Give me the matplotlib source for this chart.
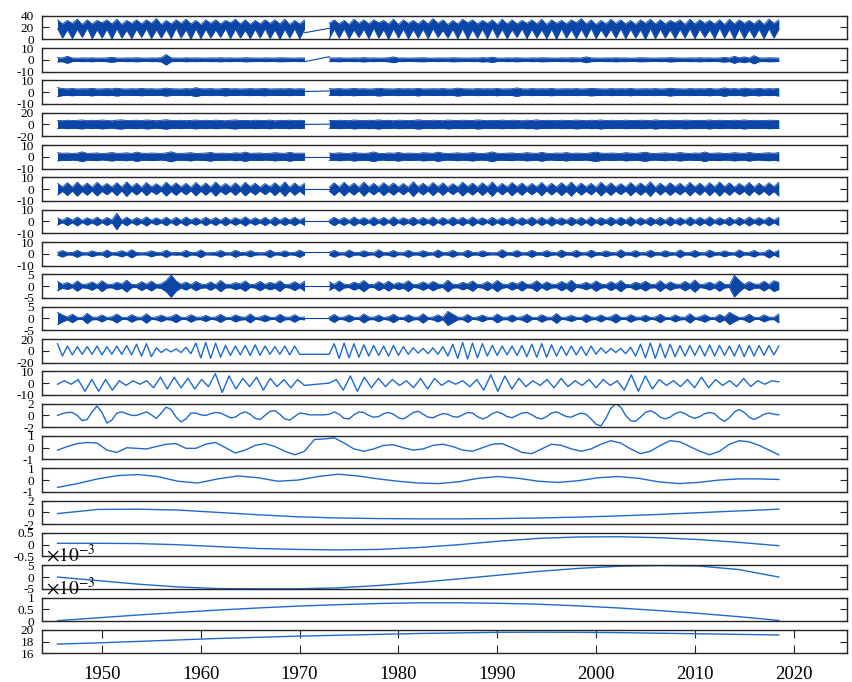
import numpy as np
import matplotlib.pyplot as plt
from matplotlib.ticker import FuncFormatter

plt.rcParams['font.family'] = ['Liberation Serif', 'DejaVu Serif']
plt.rcParams['mathtext.fontset'] = 'stix'
plt.rcParams['axes.unicode_minus'] = False

# the record breaks between late 1970 and early 1973
PRE = (1945.5, 1970.5)
POST = (1973.0, 2018.5)
FULL = (1945.5, 2018.5)

# ---------------- raw signal: half-yearly top / bottom of the daily band ----------------
summer_top_pre = [33, 32, 34, 33, 32, 33, 34, 32, 33, 33, 35, 32, 33, 34, 32, 33, 33, 32, 34, 33, 32, 33, 33, 34, 32, 33]
winter_top_pre = [26, 27, 25, 26, 28, 26, 25, 27, 26, 27, 25, 26, 27, 26, 25, 27, 26, 28, 26, 25, 26, 27, 26, 25, 26]
summer_low_pre = [18, 16, 17, 19, 16, 17, 18, 15, 17, 18, 16, 17, 19, 16, 18, 17, 16, 18, 17, 15, 17, 18, 16, 17, 18, 17]
winter_low_pre = [2, 1, 3, 1, 2, 0, 2, 1, 3, 1, 2, 1, 2, 0, 1, 2, 3, 1, 2, 1, 2, 1, 0, 2, 1]
winter_top_post = [27, 26, 25, 27, 26, 28, 26, 25, 27, 26, 26, 27, 25, 26, 28, 26, 27, 25, 26, 26, 27, 26, 25,
                   27, 26, 28, 26, 25, 26, 27, 26, 25, 27, 26, 26, 28, 25, 26, 27, 26, 25, 26, 27, 26, 25, 27]
summer_top_post = [33, 32, 34, 33, 33, 32, 34, 33, 32, 33, 35, 33, 32, 34, 33, 32, 33, 34, 33, 32, 33, 34, 33,
                   32, 33, 35, 33, 32, 34, 33, 32, 33, 34, 33, 32, 33, 34, 33, 32, 33, 34, 33, 32, 33, 34, 33]
winter_low_post = [1, 2, 1, 3, 1, 2, 0, 2, 1, 2, 1, 3, 2, 1, 0, 2, 1, 2, 1, 3, 1, 2, 1,
                   0, 2, 1, 2, 1, 3, 2, 1, 2, 0, 1, 2, 1, 2, 1, 3, 1, 2, 0, 1, 2, 1, 2]
summer_low_post = [17, 18, 16, 17, 19, 16, 18, 17, 16, 17, 18, 15, 17, 18, 16, 17, 19, 17, 16, 18, 17, 16, 17,
                   18, 16, 17, 19, 16, 17, 18, 17, 16, 18, 17, 16, 17, 18, 17, 16, 19, 17, 18, 16, 17, 18, 17]

# ---------------- IMF 1-9: half-yearly envelope amplitude (+/-) ----------------
imf1_pre = [1.8, 1.6, 3.0, 1.5, 1.4, 1.6, 1.5, 1.7, 1.4, 1.5, 1.6, 2.2, 1.5, 1.4, 1.6, 1.5, 1.7, 1.5, 1.4, 1.6,
            1.5, 1.8, 4.5, 1.6, 1.5, 1.4, 1.7, 1.5, 1.6, 1.5, 1.4, 1.6, 1.5, 1.7, 1.5, 1.6, 1.4, 1.5, 1.7, 1.6,
            1.5, 1.4, 1.6, 1.5, 1.5, 1.7, 1.6, 1.5, 1.4, 1.6, 1.5]
imf1_post = [1.6, 1.5, 1.7, 1.5, 1.4, 1.6, 1.5, 1.8, 1.5, 1.6, 1.4, 1.5, 1.7, 2.5, 1.5, 1.6, 1.4, 1.5, 1.6, 1.7,
             1.5, 1.4, 1.6, 1.5, 1.5, 1.7, 1.6, 1.5, 1.4, 1.6, 1.5, 1.8, 1.6, 2.2, 1.5, 1.4, 1.6, 1.5, 1.7, 1.5,
             1.4, 1.6, 1.5, 1.7, 1.6, 1.5, 1.4, 1.6, 1.5, 1.7, 1.6, 1.5, 2.5, 1.6, 1.5, 1.4, 1.6, 1.5, 1.7, 1.5,
             1.6, 1.4, 1.5, 1.7, 1.6, 1.5, 1.4, 1.6, 1.5, 1.8, 1.6, 1.5, 1.4, 1.6, 1.5, 1.7, 1.5, 1.6, 1.4, 1.6,
             2.0, 1.5, 3.0, 1.6, 2.5, 1.5, 3.5, 1.6, 1.5, 1.7, 1.6, 1.5]
imf2_pre = [3.8, 3.0, 2.8, 3.1, 2.7, 2.9, 2.8, 3.2, 2.7, 2.8, 3.0, 2.8, 3.3, 2.8, 2.7, 2.9, 2.8, 3.1, 2.8, 2.9,
            2.7, 2.8, 3.4, 2.9, 2.8, 2.7, 3.0, 2.8, 3.8, 2.9, 2.8, 3.0, 2.7, 2.8, 3.2, 2.8, 2.9, 2.7, 2.8, 3.0,
            2.8, 2.9, 3.1, 2.7, 2.8, 2.9, 2.8, 3.0, 2.7, 2.9, 2.8]
imf2_post = [2.9, 2.8, 3.0, 2.7, 2.8, 3.1, 2.8, 2.9, 2.7, 2.8, 3.3, 2.9, 2.8, 2.7, 3.0, 2.8, 2.9, 2.8, 3.2, 2.7,
             2.8, 2.9, 2.8, 3.0, 2.7, 2.8, 3.4, 2.9, 2.8, 2.7, 3.0, 2.8, 2.9, 2.8, 3.1, 2.7, 2.8, 2.9, 3.6, 2.8,
             2.7, 3.0, 2.8, 2.9, 2.8, 3.1, 2.7, 2.8, 2.9, 2.8, 3.0, 2.7, 2.8, 3.2, 2.9, 2.8, 2.7, 3.0, 2.8, 2.9,
             2.8, 3.1, 2.7, 2.8, 2.9, 2.8, 3.0, 2.7, 2.8, 3.3, 2.9, 2.8, 2.7, 3.0, 2.8, 2.9, 2.8, 3.1, 2.7, 2.8,
             3.6, 2.8, 3.0, 2.7, 3.4, 2.9, 2.8, 3.2, 2.7, 3.0, 2.8, 3.3]
imf3_pre = [6.8, 6.3, 7.2, 6.6, 7.0, 7.6, 6.4, 7.1, 6.7, 7.5, 6.9, 6.2, 7.3, 7.8, 6.6, 6.8, 7.2, 6.5, 7.6, 7.0,
            6.3, 7.1, 8.0, 6.8, 6.6, 7.2, 6.4, 6.9, 7.5, 6.7, 7.2, 6.5, 7.3, 6.8, 6.3, 7.1, 7.7, 6.6, 7.0, 6.4,
            7.2, 6.8, 6.7, 7.4, 6.2, 7.0, 6.8, 7.3, 6.5, 7.1, 6.7]
imf3_post = [7.0, 6.6, 7.2, 6.8, 6.4, 7.6, 6.9, 6.5, 7.2, 6.8, 7.8, 6.7, 7.1, 6.3, 7.3, 7.0, 6.6, 6.8, 7.9, 6.9,
             6.5, 7.2, 6.8, 6.4, 7.5, 7.0, 6.7, 7.2, 6.9, 6.6, 7.7, 7.1, 6.4, 7.0, 6.8, 7.4, 6.7, 7.2, 6.9, 6.3,
             7.3, 6.8, 7.8, 6.6, 7.1, 6.8, 6.5, 7.2, 6.9, 6.7, 7.5, 7.0, 6.4, 7.2, 6.8, 7.7, 6.6, 7.1, 6.9, 6.5,
             7.3, 6.8, 6.7, 7.2, 7.0, 6.4, 7.8, 6.8, 6.6, 7.2, 6.9, 6.5, 7.4, 7.1, 6.7, 7.0, 6.8, 7.6, 6.4, 7.2,
             6.9, 6.6, 7.2, 6.8, 7.7, 6.7, 7.1, 6.9, 6.5, 7.3, 7.0, 6.8]
imf4_pre = [3.5, 3.0, 3.2, 2.8, 3.1, 4.2, 2.9, 3.0, 3.3, 2.7, 3.1, 3.6, 2.9, 3.0, 3.4, 2.8, 4.0, 3.1, 2.9, 3.2,
            3.0, 2.8, 3.3, 4.3, 3.0, 2.9, 3.1, 3.5, 2.8, 3.0, 3.2, 3.7, 2.9, 3.1, 3.0, 2.8, 3.4, 3.0, 4.0, 2.9,
            3.1, 3.2, 2.8, 3.0, 3.5, 3.1, 2.9, 3.8, 3.0, 3.1, 3.0]
imf4_post = [3.1, 2.9, 3.4, 3.0, 2.8, 3.6, 3.1, 2.9, 3.2, 4.1, 3.0, 2.8, 3.3, 3.0, 3.7, 2.9, 3.1, 3.0, 2.8, 3.5,
             3.2, 2.9, 4.0, 3.1, 2.8, 3.0, 3.4, 2.9, 3.1, 3.6, 3.0, 2.8, 3.2, 4.2, 3.0, 2.9, 3.1, 3.3, 2.8, 3.0,
             3.5, 3.1, 2.9, 3.8, 3.0, 2.8, 3.2, 3.0, 3.6, 2.9, 3.1, 3.0, 2.8, 3.4, 4.0, 3.1, 2.9, 3.2, 3.0, 2.8,
             3.5, 3.1, 2.9, 3.3, 3.9, 3.0, 2.8, 3.1, 3.4, 2.9, 3.0, 3.6, 3.1, 2.8, 3.2, 3.0, 4.1, 2.9, 3.1, 3.3,
             2.8, 3.0, 3.5, 3.1, 2.9, 3.7, 3.0, 2.8, 3.2, 3.4, 3.0, 3.6]
imf5_pre = [5.0, 1.8, 5.5, 1.6, 6.0, 1.9, 5.2, 1.5, 5.8, 2.0, 4.8, 1.7, 5.5, 1.6, 6.2, 1.8, 5.0, 1.5, 5.6, 1.9,
            4.6, 1.6, 5.9, 2.0, 5.3, 1.7, 4.9, 1.5, 5.7, 1.8, 5.2, 1.6, 6.0, 1.9, 4.8, 1.7, 5.4, 1.5, 5.8, 2.0,
            5.0, 1.6, 4.7, 1.8, 5.5, 1.7, 6.1, 1.5, 5.2, 1.8, 5.0]
imf5_post = [1.7, 5.4, 1.6, 5.8, 1.9, 5.1, 1.5, 6.0, 1.8, 4.9, 1.6, 5.5, 2.0, 5.2, 1.7, 4.8, 1.5, 6.3, 1.9, 5.0,
             1.6, 5.6, 1.8, 5.3, 1.5, 4.7, 1.7, 5.9, 2.0, 5.1, 1.6, 5.4, 1.8, 6.1, 1.5, 4.9, 1.7, 5.6, 1.9, 5.2,
             1.6, 4.8, 1.8, 5.7, 1.5, 5.0, 1.7, 5.5, 2.0, 6.0, 1.6, 5.1, 1.8, 4.9, 1.5, 5.8, 1.9, 5.3, 1.7, 4.7,
             1.6, 5.6, 1.8, 5.2, 2.0, 6.2, 1.5, 5.0, 1.7, 5.4, 1.9, 4.9, 1.6, 5.7, 1.8, 5.1, 1.5, 5.5, 1.7, 6.0,
             1.9, 5.3, 1.6, 4.8, 1.8, 5.6, 1.5, 5.0, 1.7, 5.4, 2.0, 5.9]
imf6_pre = [3.0, 1.0, 3.5, 1.1, 3.8, 0.9, 3.2, 1.2, 3.6, 1.0, 3.4, 1.1, 7.0, 1.0, 3.7, 0.9, 3.3, 1.2, 3.9, 1.0,
            3.1, 1.1, 3.6, 0.9, 3.5, 1.0, 3.8, 1.2, 3.2, 1.0, 3.6, 1.1, 3.4, 0.9, 3.7, 1.0, 3.3, 1.2, 3.9, 1.0,
            3.2, 1.1, 3.5, 0.9, 3.8, 1.0, 3.4, 1.2, 3.6, 1.0, 3.3]
imf6_post = [1.0, 3.6, 1.1, 3.4, 0.9, 3.8, 1.2, 3.3, 1.0, 3.7, 1.1, 3.5, 0.9, 3.9, 1.0, 3.2, 1.2, 3.6, 1.0, 3.4,
             1.1, 3.8, 0.9, 3.3, 1.0, 3.7, 1.2, 3.5, 1.0, 3.9, 1.1, 3.2, 0.9, 3.6, 1.0, 3.4, 1.2, 3.8, 1.0, 3.3,
             1.1, 3.7, 0.9, 3.5, 1.0, 3.9, 1.2, 3.2, 1.0, 3.6, 1.1, 3.4, 0.9, 3.8, 1.0, 3.3, 1.2, 3.7, 1.0, 3.5,
             1.1, 3.9, 0.9, 3.2, 1.0, 3.6, 1.2, 3.4, 1.0, 3.8, 1.1, 3.3, 0.9, 3.7, 1.0, 3.5, 1.2, 3.9, 1.0, 3.2,
             1.1, 3.6, 0.9, 3.4, 1.0, 3.8, 1.2, 3.3, 1.0, 3.7, 1.1, 3.5]
imf7_pre = [1.2, 2.8, 1.0, 1.1, 3.0, 1.0, 0.9, 2.5, 1.1, 1.0, 3.2, 0.9, 1.2, 2.7, 1.0, 3.5, 1.1, 0.9, 1.0, 2.6,
            1.2, 1.0, 3.1, 0.9, 1.1, 1.0, 2.9, 1.0, 1.2, 3.3, 0.9, 1.0, 1.1, 2.8, 1.0, 0.9, 3.0, 1.2, 1.0, 2.7,
            1.1, 0.9, 1.0, 3.2, 1.0, 1.1, 2.6, 0.9, 1.2, 3.0, 1.0]
imf7_post = [1.1, 2.9, 1.0, 0.9, 3.1, 1.2, 1.0, 2.6, 1.1, 0.9, 3.4, 1.0, 1.2, 2.8, 0.9, 1.0, 3.0, 1.1, 1.0, 2.7,
             1.2, 0.9, 3.3, 1.0, 1.1, 2.9, 1.0, 0.9, 3.1, 1.2, 1.0, 2.6, 1.1, 0.9, 1.0, 3.5, 1.0, 1.2, 2.8, 0.9,
             1.0, 3.0, 1.1, 1.0, 2.7, 1.2, 0.9, 3.2, 1.0, 1.1, 2.9, 1.0, 0.9, 3.1, 1.2, 1.0, 2.6, 1.1, 0.9, 3.4,
             1.0, 1.2, 2.8, 0.9, 1.0, 3.0, 1.1, 1.0, 2.7, 1.2, 0.9, 3.3, 1.0, 1.1, 2.9, 1.0, 0.9, 3.1, 1.2, 1.0,
             2.6, 1.1, 0.9, 3.2, 1.0, 1.2, 2.8, 0.9, 1.0, 3.6, 1.1, 3.0]
imf8_pre = [2.0, 0.8, 1.5, 0.6, 2.2, 0.7, 0.9, 1.8, 0.6, 2.3, 0.8, 0.7, 1.6, 0.9, 2.5, 0.7, 0.6, 1.9, 0.8, 2.1,
            0.7, 1.0, 2.4, 4.7, 2.2, 0.8, 1.7, 0.6, 2.0, 0.9, 0.7, 1.8, 0.6, 2.4, 0.8, 0.7, 1.5, 0.9, 2.2, 0.6,
            0.8, 2.0, 0.7, 1.6, 0.9, 2.3, 0.6, 0.8, 1.9, 0.7, 2.1]
imf8_post = [1.8, 0.7, 2.2, 0.8, 0.6, 1.7, 0.9, 2.4, 0.7, 0.6, 1.9, 0.8, 2.1, 0.7, 1.5, 0.9, 2.3, 0.6, 0.8, 1.8,
             0.7, 2.0, 0.9, 0.6, 2.5, 0.8, 0.7, 1.6, 0.9, 2.2, 0.6, 0.8, 1.9, 0.7, 2.4, 0.9, 0.6, 1.7, 0.8, 2.1,
             0.7, 0.9, 2.3, 0.6, 1.8, 0.8, 0.7, 2.0, 0.9, 2.5, 0.6, 0.8, 1.6, 0.7, 2.2, 0.9, 0.6, 1.9, 0.8, 2.4,
             0.7, 0.6, 1.7, 0.9, 2.1, 0.8, 0.7, 2.3, 0.6, 1.8, 0.9, 0.7, 2.0, 0.8, 2.6, 0.6, 0.9, 1.7, 0.7, 2.2,
             0.8, 0.6, 4.6, 2.4, 0.7, 1.9, 0.9, 0.8, 2.1, 0.7, 2.3, 1.5]
imf9_pre = [2.6, 1.5, 0.6, 1.8, 0.5, 0.4, 2.2, 0.6, 0.5, 1.5, 0.4, 0.7, 1.9, 0.5, 0.4, 1.6, 0.6, 0.5, 2.0, 0.4,
            0.6, 1.4, 0.5, 0.7, 1.8, 0.5, 0.4, 1.6, 0.6, 0.5, 1.3, 0.4, 0.6, 1.7, 0.5, 0.4, 1.5, 0.7, 0.5, 1.9,
            0.4, 0.6, 1.4, 0.5, 0.4, 1.8, 0.6, 0.5, 1.6, 0.4, 0.6]
imf9_post = [0.5, 1.7, 0.4, 0.6, 1.5, 0.5, 0.4, 1.9, 0.6, 0.5, 1.4, 0.4, 0.7, 1.8, 0.5, 0.4, 1.6, 0.6, 0.5, 2.0,
             0.4, 0.6, 1.5, 0.5, 3.0, 1.8, 0.6, 0.5, 1.7, 0.4, 0.6, 1.4, 0.5, 0.4, 1.9, 0.6, 0.5, 1.5, 0.4, 0.7,
             1.8, 0.5, 0.4, 1.6, 0.6, 0.5, 2.1, 0.4, 0.6, 1.3, 0.5, 0.4, 1.7, 0.6, 0.5, 1.5, 0.4, 0.7, 1.9, 0.5,
             0.4, 1.6, 0.6, 0.5, 1.4, 0.4, 0.6, 1.8, 0.5, 0.4, 1.5, 0.6, 0.5, 2.0, 0.4, 0.7, 1.6, 0.5, 0.4, 1.7,
             0.6, 2.6, 1.4, 0.4, 0.6, 1.8, 0.5, 0.4, 1.5, 0.6, 0.5, 1.9]

# value at each side of the gap, joined by a straight segment (signal, IMF 1-9)
gap_links = [(11, 18.5), (-1.6, 2.6), (0.5, 1.0), (0, 0.5), (0, 0), (0, 0), (0, 0), (1.5, 1.5), (0, 0), (0, 0)]

# ---------------- IMF 10-11: successive extremes ----------------
imf10_pre = [12, -9, 8, -7, 7, -6, 7, -6, 8, -7, 7, -6, 8, -6, 9, -7, 11, -9, 12, -10, 5, -3, 3, -2, 3, -3,
             6, -5, 13, -12, 14, -13, 13, -11, 9, -8, 8, -7, 9, -8, 10, -8, 8, -6, 7, -6, 8, -7, 8, -6, -6]
imf10_post = [-6, 12, -13, 13, -12, 12, -11, 10, -9, 9, -8, 8, -9, 9, -8, 7, -6, 5, -4, 4, -5, 5, -6, 7,
              -9, 11, -13, 14, -14, 13, -12, 12, -9, 9, -8, 8, -7, 8, -8, 9, -10, 11, -11, 12, -11, 10,
              -9, 8, -8, 8, -7, 7, -8, 8, -6, 5, -4, 4, -3, 4, -5, 6, -9, 11, -12, 13, -13, 12, -12, 11,
              -10, 9, -9, 9, -8, 9, -9, 10, -9, 9, -8, 8, -9, 10, -10, 9, -9, 9, -8, 9, -7, 8]
imf11_pre = [-1, 2, -1, 3, -7, 3, -7, 3, -6, 2, -2, 2, -1, 2, -4, 5, -5, 5, -4, 4, -5, 3, -3, 8, -8, 6,
             -5, 4, -3, 5, -6, 4, -3, 3, -4, 3, -2]
imf11_post = [0, 3, -6, 6, -7, 5, -4, 4, -3, 3, -2, 2, -4, 4, -5, 4, -2, 2, -1, 2, -3, 3, -6, 7, -7, 6,
              -5, 4, -3, 2, -2, 3, -4, 4, -3, 2, -2, 3, -4, 3, -2, 2, -6, 7, -7, 6, -5, 3, -2, 2, -3, 3,
              -4, 5, -4, 3, -2, 2, -3, 4, -3, 2, -1, 2, 1]

# ---------------- IMF 12-18 and residue: smooth components ----------------
imf12 = [0.0, 0.3, 0.5, 0.5, 0.0, -0.9, -0.7, 0.6, 1.6, 0.5, -1.3, -0.8, 0.4, 0.6, 0.3, 0.0, 0.0, 0.3, 0.6,
         0.1, -0.5, 0.4, 1.4, 1.0, -0.3, -1.1, -0.6, 0.4, 0.4, 0.1, 0.0, 0.3, 0.5, 0.4, 0.0, -0.4, -0.3, 0.3,
         0.6, 0.2, -0.5, -0.7, 0.0, 0.7, 0.8, 0.2, -0.6, -0.8, -0.2, 0.4, 0.3, 0.1, 0.1, 0.1, 0.1, 0.2, 0.6,
         0.2, -0.5, -0.6, 0.1, 0.6, 0.5, 0.0, -0.3, -0.2, 0.3, 0.5, 0.2, -0.4, -0.6, -0.1, 0.5, 0.7, 0.2,
         -0.3, -0.4, 0.0, 0.3, 0.2, -0.2, -0.3, 0.1, 0.5, 0.4, -0.2, -0.6, -0.3, 0.3, 0.6, 0.3, -0.2, -0.4,
         0.0, 0.4, 0.5, 0.1, -0.4, -0.6, -0.2, 0.4, 0.6, 0.2, -0.2, -0.3, 0.1, 0.4, 0.2, -0.6, -1.5, -1.8,
         -0.5, 1.2, 2.0, 1.4, 0.0, -0.9, -1.0, -0.3, 0.5, 0.8, 0.4, -0.3, -0.6, -0.3, 0.3, 0.6, 0.3, -0.2,
         -0.5, -0.2, 0.3, 0.5, 0.3, -0.5, -1.0, -0.4, 0.6, 1.0, 0.5, -0.3, -0.7, -0.3, 0.2, 0.4, 0.2, 0.1]
imf13 = [-0.2, 0.1, 0.35, 0.45, 0.4, -0.2, -0.4, 0.0, -0.05, -0.1, 0.1, 0.3, 0.35, -0.05, -0.05, 0.3, 0.45,
         0.0, -0.45, -0.2, 0.2, 0.35, 0.1, -0.3, -0.6, -0.3, 0.7, 0.75, 0.85, 0.4, -0.1, -0.3, -0.1, 0.2, 0.25,
         0.0, -0.2, -0.1, 0.2, 0.3, 0.1, -0.2, -0.3, 0.0, 0.3, 0.35, 0.0, -0.4, -0.5, -0.1, 0.3, 0.2, -0.1,
         -0.3, -0.1, 0.3, 0.6, 0.4, -0.1, -0.5, -0.3, 0.2, 0.6, 0.5, 0.1, -0.3, -0.6, -0.3, 0.3, 0.6, 0.5,
         0.2, -0.2, -0.6]
imf14 = [-0.62, -0.3, 0.1, 0.38, 0.47, 0.3, -0.1, -0.25, 0.1, 0.35, 0.2, -0.1, 0.0, 0.3, 0.5, 0.35, 0.1,
         -0.1, -0.25, -0.3, -0.15, 0.15, 0.3, 0.15, -0.1, -0.2, -0.05, 0.2, 0.3, 0.15, -0.15, -0.3, -0.2, 0.0,
         0.1, 0.1, 0.05]
imf15 = [-0.2, 0.5, 0.55, 0.4, 0.0, -0.4, -0.75, -0.95, -1.05, -1.1, -1.1, -1.05, -0.95, -0.8, -0.6, -0.35,
         -0.05, 0.25, 0.55]
imf16 = [0.06, 0.06, 0.05, 0.0, -0.08, -0.16, -0.2, -0.22, -0.2, -0.12, 0.0, 0.15, 0.27, 0.33, 0.34, 0.3,
         0.22, 0.1, -0.04]
imf17 = [0.0, -1.5e-3, -3.0e-3, -4.2e-3, -4.9e-3, -5.0e-3, -5.0e-3, -4.6e-3, -3.6e-3, -2.3e-3, -0.8e-3,
         0.8e-3, 2.4e-3, 3.7e-3, 4.6e-3, 4.9e-3, 4.7e-3, 3.2e-3, 0.0]
imf18 = [0.02e-3, 0.14e-3, 0.26e-3, 0.37e-3, 0.47e-3, 0.56e-3, 0.64e-3, 0.70e-3, 0.75e-3, 0.78e-3, 0.78e-3,
         0.76e-3, 0.72e-3, 0.65e-3, 0.56e-3, 0.45e-3, 0.33e-3, 0.19e-3, 0.03e-3]
residue = [17.6, 17.8, 18.05, 18.3, 18.55, 18.75, 18.95, 19.1, 19.25, 19.4, 19.5, 19.6, 19.62, 19.6, 19.55,
           19.45, 19.35, 19.25, 19.15]

# y range of each row (low, high); middle value is the third tick
row_limits = [(0, 40), (-10, 10), (-10, 10), (-20, 20), (-10, 10), (-10, 10), (-10, 10), (-10, 10),
              (-5, 5), (-5, 5), (-20, 20), (-10, 10), (-2, 2), (-1, 1), (-1, 1), (-2, 2), (-0.5, 0.5),
              (-5e-3, 5e-3), (0, 1e-3), (16, 20)]
year_ticks = [1950, 1960, 1970, 1980, 1990, 2000, 2010, 2020]

BAND = '#0b46a6'
LINE = '#1c6bcc'
EDGE = '#262626'


def weave(first, second):
    out = []
    for i in range(max(len(first), len(second))):
        if i < len(first):
            out.append(first[i])
        if i < len(second):
            out.append(second[i])
    return np.array(out, dtype=float)


def span(limits, values):
    return np.linspace(limits[0], limits[1], len(values))


def draw_band(ax, lo_pre, hi_pre, lo_post, hi_post, link):
    for lim, lo, hi in ((PRE, lo_pre, hi_pre), (POST, lo_post, hi_post)):
        t = span(lim, hi)
        ax.fill_between(t, lo, hi, color=BAND, lw=0)
        ax.plot(t, hi, color=BAND, lw=0.6)
        ax.plot(t, lo, color=BAND, lw=0.6)
    ax.plot([PRE[1], POST[0]], link, color=BAND, lw=0.8)


fig = plt.figure(figsize=(8.53, 6.82), dpi=100)
W, H = 853.0, 682.0
left, right = 41.7, 847.0
top0, step, height = 15.7, 32.33, 23.5

axes = []
for i in range(20):
    top = top0 + i * step
    ax = fig.add_axes([left / W, 1 - (top + height) / H, (right - left) / W, height / H])
    axes.append(ax)

# row 1: raw series, a band between the seasonal top and bottom
draw_band(axes[0],
          weave(summer_low_pre, winter_low_pre), weave(summer_top_pre, winter_top_pre),
          weave(winter_low_post, summer_low_post), weave(winter_top_post, summer_top_post),
          gap_links[0])

# rows 2-10: high frequency IMFs as symmetric envelopes
envelopes = [(imf1_pre, imf1_post), (imf2_pre, imf2_post), (imf3_pre, imf3_post), (imf4_pre, imf4_post),
             (imf5_pre, imf5_post), (imf6_pre, imf6_post), (imf7_pre, imf7_post), (imf8_pre, imf8_post),
             (imf9_pre, imf9_post)]
for k, (a_pre, a_post) in enumerate(envelopes):
    a_pre = np.array(a_pre)
    a_post = np.array(a_post)
    draw_band(axes[k + 1], -a_pre, a_pre, -a_post, a_post, gap_links[k + 1])

# rows 11-12: oscillating IMFs drawn through their extremes
for ax, v_pre, v_post in ((axes[10], imf10_pre, imf10_post), (axes[11], imf11_pre, imf11_post)):
    t = np.concatenate([span(PRE, v_pre), span(POST, v_post)])
    ax.plot(t, list(v_pre) + list(v_post), color=LINE, lw=1.0)

# rows 13-20: smooth components over the whole period
for ax, vals in zip(axes[12:], [imf12, imf13, imf14, imf15, imf16, imf17, imf18, residue]):
    ax.plot(span(FULL, vals), vals, color=LINE, lw=1.0)

plain = FuncFormatter(lambda v, p: f'{v:g}')
milli = FuncFormatter(lambda v, p: f'{v * 1e3:g}')

for i, ax in enumerate(axes):
    lo, hi = row_limits[i]
    ax.set_xlim(1943.9, 2025.4)
    ax.set_ylim(lo, hi)
    ax.set_yticks([lo, (lo + hi) / 2, hi])
    ax.yaxis.set_major_formatter(milli if i in (17, 18) else plain)
    ax.tick_params(axis='y', direction='in', length=5, width=0.8, color=EDGE,
                   left=True, right=True, labelsize=9.5, pad=5.5, labelcolor='black')
    for s in ax.spines.values():
        s.set_color(EDGE)
        s.set_linewidth(1.0)
    if i == 19:
        ax.set_xticks(year_ticks)
        ax.tick_params(axis='x', direction='in', length=5.5, width=0.8, color=EDGE,
                       top=True, bottom=True, labelsize=13.5, pad=9)
    else:
        ax.set_xticks([])
    if i in (17, 18):
        ax.text(0.005, 0.97, r'$\times10^{-3}$', transform=ax.transAxes, ha='left', va='bottom',
                fontsize=14)

fig.savefig('out.png', dpi=100)
